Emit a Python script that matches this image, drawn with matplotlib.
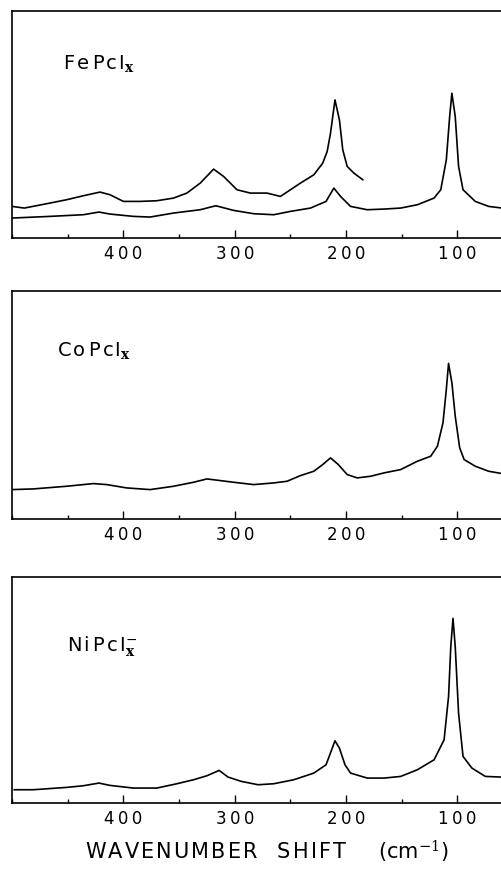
import matplotlib
matplotlib.use('Agg')
import matplotlib.pyplot as plt
import matplotlib.ticker as tick

plt.rcParams['mathtext.fontset'] = 'dejavuserif'

# FePcIx, upper trace (stops near 185 cm-1)
fe_hi_x = [500, 489, 466, 451, 436, 421, 412, 400, 385, 370, 355, 343, 331, 319,
           310, 298, 286, 271, 259, 250, 241, 229, 221, 217, 214, 210, 206, 203,
           199, 193, 185]
fe_hi_y = [95, 90, 105, 115, 127, 138, 130, 110, 110, 112, 120, 135, 165, 207,
           185, 145, 135, 135, 125, 145, 165, 190, 225, 260, 315, 415, 355, 265,
           215, 195, 175]

# FePcIx, lower trace (full range)
fe_lo_x = [500, 466, 436, 422, 412, 391, 376, 355, 331, 317, 301, 283, 265, 250,
           232, 218, 211, 205, 196, 181, 166, 151, 136, 121, 115, 110, 107, 105,
           102, 99, 95, 84, 72, 60]
fe_lo_y = [60, 65, 70, 78, 72, 65, 63, 75, 85, 97, 83, 73, 70, 80,
           90, 110, 150, 125, 95, 85, 87, 90, 100, 120, 145, 235, 365, 435,
           365, 215, 145, 110, 95, 90]

# CoPcIx
co_x = [500, 481, 451, 427, 415, 397, 376, 355, 337, 325, 313, 301, 283, 265,
        253, 241, 229, 221, 214, 207, 199, 190, 178, 166, 151, 136, 124, 118,
        113, 110, 108, 105, 102, 98, 94, 84, 72, 60]
co_y = [88, 90, 98, 106, 103, 93, 88, 98, 110, 120, 115, 110, 103, 108,
        113, 130, 143, 163, 183, 163, 133, 123, 128, 138, 148, 173, 188, 218,
        288, 388, 466, 408, 308, 213, 178, 158, 143, 136]

# NiPcIx
ni_x = [498, 481, 451, 436, 422, 412, 391, 370, 352, 337, 325, 314, 306, 294,
        279, 265, 247, 229, 218, 213, 210, 206, 201, 196, 181, 166, 151, 136,
        121, 112, 108, 106, 104, 102, 99, 95, 87, 75, 60]
ni_y = [40, 40, 47, 52, 60, 53, 45, 45, 58, 70, 82, 98, 78, 65,
        55, 58, 70, 90, 115, 160, 187, 165, 115, 90, 75, 75, 80, 100,
        130, 190, 320, 470, 555, 470, 270, 140, 105, 80, 78]

labels = ['F\u200ae\u2009P\u200ac\u200aI', 'C\u200ao\u2009P\u200ac\u200aI', 'N\u200ai\u2009P\u200ac\u200aI']
subs = [r'$_{\mathbf{x}}$', r'$_{\mathbf{x}}$', r'$^{-}_{\mathbf{x}}$']
major_ticks = [400, 300, 200, 100]
tick_labels = ['400', '300', '200', '100']

fig = plt.figure(figsize=(5.02, 8.69), dpi=100)
boxes = [[0.024, 0.7261, 0.976, 0.2612],
         [0.024, 0.4028, 0.976, 0.2623],
         [0.024, 0.0759, 0.976, 0.2600]]
ylims = [682, 683, 679]
label_pos = [(0.104, 0.745), (0.092, 0.715), (0.112, 0.673)]

series = [[(fe_hi_x, fe_hi_y), (fe_lo_x, fe_lo_y)],
          [(co_x, co_y)],
          [(ni_x, ni_y)]]

for i in range(3):
    ax = fig.add_axes(boxes[i])
    for xs, ys in series[i]:
        ax.plot(xs, ys, color='black', lw=1.2)
    ax.set_xlim(500, 60)
    ax.set_ylim(0, ylims[i])
    ax.spines['right'].set_visible(False)
    for s in ['left', 'top', 'bottom']:
        ax.spines[s].set_linewidth(1.2)
    ax.set_yticks([])
    ax.set_xticks(major_ticks)
    ax.set_xticklabels(['\u2009'.join(t) for t in tick_labels])
    ax.xaxis.set_minor_locator(tick.MultipleLocator(50))
    ax.tick_params(axis='x', which='major', direction='in', length=6, width=1,
                   labelsize=12, pad=5)
    ax.tick_params(axis='x', which='minor', direction='in', length=3, width=1)
    ax.text(label_pos[i][0], label_pos[i][1], labels[i] + subs[i],
            transform=ax.transAxes, fontsize=14, va='baseline', ha='left')

xlabel = '\u200a'.join('WAVENUMBER') + '   ' + '\u200a'.join('SHIFT') + '     (cm$^{-1}$)'
fig.text(0.532, 0.011, xlabel, ha='center', va='baseline', fontsize=15)

fig.savefig('out.png', dpi=100)
